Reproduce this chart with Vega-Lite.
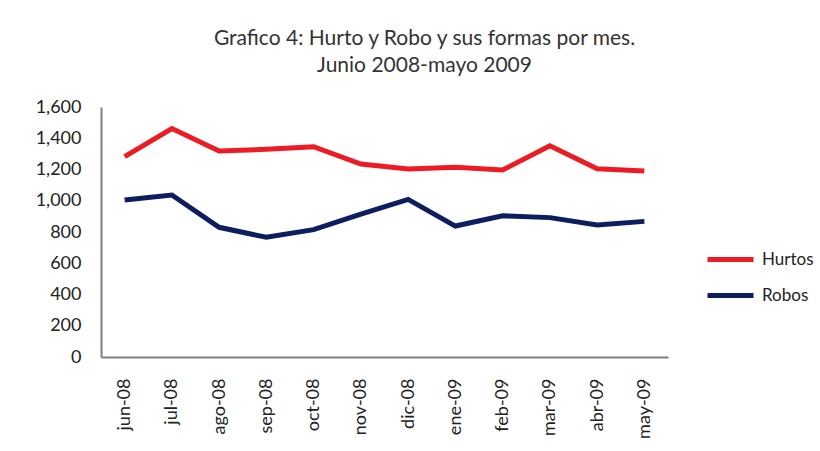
{
  "$schema": "https://vega.github.io/schema/vega-lite/v6.json",
  "autosize": {"type": "none"},
  "width": 567,
  "height": 250,
  "padding": {"left": 101, "top": 107, "right": 152, "bottom": 94},
  "background": "white",
  "title": {
    "text": ["Grafico 4: Hurto y Robo y sus formas por mes.", "Junio 2008-mayo 2009"],
    "font": "Lato",
    "fontSize": 21,
    "fontWeight": "normal",
    "color": "#333333",
    "anchor": "middle",
    "dx": 40,
    "offset": 22,
    "lineHeight": 27
  },
  "config": {
    "view": {"stroke": null},
    "font": "Lato"
  },
  "data": {
    "values": [
      {"mes": "jun-08", "serie": "Hurtos", "valor": 1282},
      {"mes": "jul-08", "serie": "Hurtos", "valor": 1462},
      {"mes": "ago-08", "serie": "Hurtos", "valor": 1318},
      {"mes": "sep-08", "serie": "Hurtos", "valor": 1329},
      {"mes": "oct-08", "serie": "Hurtos", "valor": 1346},
      {"mes": "nov-08", "serie": "Hurtos", "valor": 1235},
      {"mes": "dic-08", "serie": "Hurtos", "valor": 1203},
      {"mes": "ene-09", "serie": "Hurtos", "valor": 1214},
      {"mes": "feb-09", "serie": "Hurtos", "valor": 1197},
      {"mes": "mar-09", "serie": "Hurtos", "valor": 1352},
      {"mes": "abr-09", "serie": "Hurtos", "valor": 1205},
      {"mes": "may-09", "serie": "Hurtos", "valor": 1190},
      {"mes": "jun-08", "serie": "Robos", "valor": 1005},
      {"mes": "jul-08", "serie": "Robos", "valor": 1037},
      {"mes": "ago-08", "serie": "Robos", "valor": 830},
      {"mes": "sep-08", "serie": "Robos", "valor": 766},
      {"mes": "oct-08", "serie": "Robos", "valor": 815},
      {"mes": "nov-08", "serie": "Robos", "valor": 915},
      {"mes": "dic-08", "serie": "Robos", "valor": 1009},
      {"mes": "ene-09", "serie": "Robos", "valor": 838},
      {"mes": "feb-09", "serie": "Robos", "valor": 904},
      {"mes": "mar-09", "serie": "Robos", "valor": 892},
      {"mes": "abr-09", "serie": "Robos", "valor": 845},
      {"mes": "may-09", "serie": "Robos", "valor": 868}
    ]
  },
  "mark": {"type": "line", "strokeWidth": 5, "strokeJoin": "miter"},
  "encoding": {
    "x": {
      "field": "mes",
      "type": "ordinal",
      "sort": null,
      "scale": {"type": "point", "padding": 0.5},
      "axis": {
        "title": null,
        "labelAngle": -90,
        "labelAlign": "right",
        "labelBaseline": "middle",
        "labelFontSize": 18,
        "labelColor": "#222222",
        "labelPadding": 21,
        "ticks": false,
        "domainColor": "#7f7f7f",
        "domainWidth": 2,
        "grid": false
      }
    },
    "y": {
      "field": "valor",
      "type": "quantitative",
      "scale": {"domain": [0, 1600]},
      "axis": {
        "title": null,
        "values": [0, 200, 400, 600, 800, 1000, 1200, 1400, 1600],
        "format": ",.0f",
        "labelFontSize": 18,
        "labelColor": "#222222",
        "labelPadding": 20,
        "ticks": false,
        "domainColor": "#7f7f7f",
        "domainWidth": 2,
        "grid": false
      }
    },
    "color": {
      "field": "serie",
      "type": "nominal",
      "scale": {"domain": ["Hurtos", "Robos"], "range": ["#ED1C24", "#0E1D5F"]},
      "legend": {
        "title": null,
        "orient": "none",
        "legendX": 604,
        "legendY": 127,
        "symbolType": "stroke",
        "symbolSize": 2116,
        "symbolStrokeWidth": 5,
        "labelFontSize": 17,
        "labelColor": "#222222",
        "rowPadding": -3,
        "labelOffset": 6
      }
    }
  }
}
